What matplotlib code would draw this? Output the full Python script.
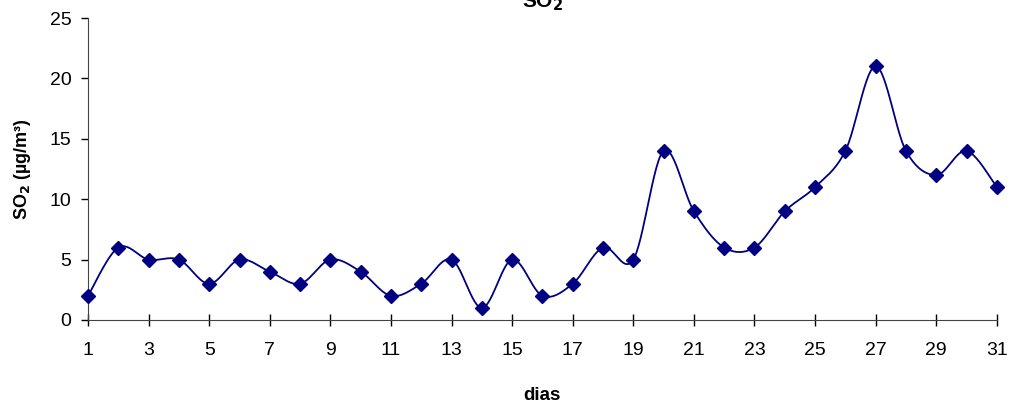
import numpy as np
import matplotlib.pyplot as plt

plt.rcParams['font.family'] = ['Liberation Sans', 'DejaVu Sans']

# dados diarios de SO2
dias = np.arange(1, 32)
so2 = [2, 6, 5, 5, 3, 5, 4, 3, 5, 4, 2, 3, 5, 1, 5, 2, 3, 6, 5, 14,
       9, 6, 6, 9, 11, 14, 21, 14, 12, 14, 11]


def catmull_rom(x, y, n=30):
    # curva suavizada tipo Excel
    x = np.asarray(x, float)
    y = np.asarray(y, float)
    px = np.concatenate([[x[0]], x, [x[-1]]])
    py = np.concatenate([[y[0]], y, [y[-1]]])
    xs, ys = [], []
    t = np.linspace(0, 1, n)
    for i in range(1, len(px) - 2):
        for p, out in ((px, xs), (py, ys)):
            p0, p1, p2, p3 = p[i - 1], p[i], p[i + 1], p[i + 2]
            out.extend(0.5 * (2 * p1 + (-p0 + p2) * t
                              + (2 * p0 - 5 * p1 + 4 * p2 - p3) * t ** 2
                              + (-p0 + 3 * p1 - 3 * p2 + p3) * t ** 3))
    return np.array(xs), np.array(ys)


fig = plt.figure(figsize=(10.12, 4.13), dpi=100)
ax = fig.add_axes([0.087, 0.2252, 0.898, 0.7312])

sx, sy = catmull_rom(dias, so2)
ax.plot(sx, sy, color='#000080', lw=1.3, zorder=2)
ax.plot(dias, so2, 'D', color='#000080', ms=7, zorder=3, clip_on=False)

ax.set_xlim(1, 31)
ax.set_ylim(0, 25)
ax.set_xticks(np.arange(1, 32, 2))
ax.set_yticks(np.arange(0, 26, 5))
ax.tick_params(labelsize=14, length=5, width=1, color='black', pad=7)
ax.tick_params(axis='x', direction='inout', length=8, pad=12)
for s in ('top', 'right'):
    ax.spines[s].set_visible(False)
for s in ('left', 'bottom'):
    ax.spines[s].set_color('#444444')

ax.set_xlabel('dias', fontsize=13.5, fontweight='bold', labelpad=20)
ax.set_ylabel('SO$_\\mathbf{2}$ (µg/m³)', fontsize=13, fontweight='bold', labelpad=12)
fig.text(0.536, 0.995, 'SO$_\\mathbf{2}$', fontsize=15, fontweight='bold',
         ha='center', va='center')

fig.savefig('out.png', dpi=100)
